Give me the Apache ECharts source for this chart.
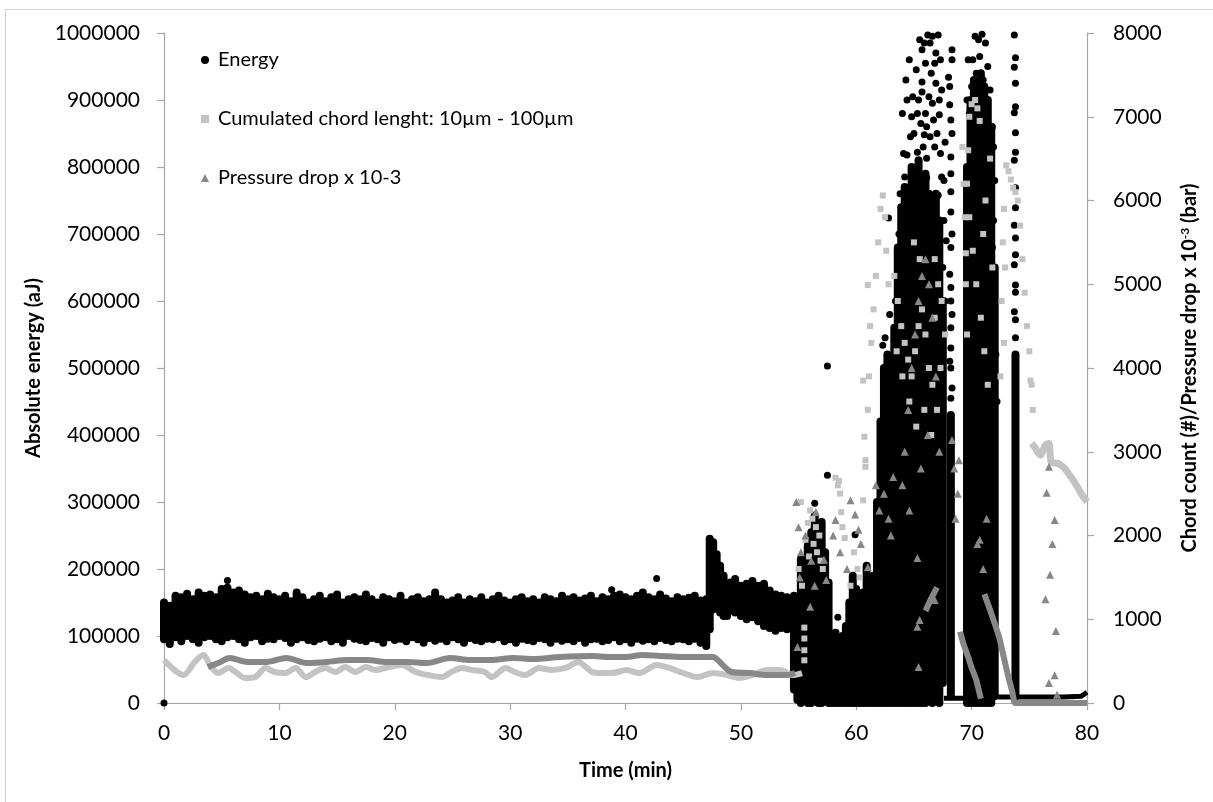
<!DOCTYPE html>
<html><head><meta charset="utf-8">
<script src="https://cdn.jsdelivr.net/npm/echarts@6/dist/echarts.min.js"></script>
<style>html,body{margin:0;padding:0;background:#fff}#c{width:1213px;height:802px}</style>
</head><body><div id="c"></div>
<script>
// ---- axis ticks ----
const leftTicks = [0,100000,200000,300000,400000,500000,600000,700000,800000,900000,1000000];
const rightTicks = [0,1000,2000,3000,4000,5000,6000,7000,8000];
const timeTicks = [0,10,20,30,40,50,60,70,80];

// ---- series names ----
const nameEnergy = 'Energy';
const nameChord = 'Cumulated chord lenght: 10µm - 100µm';
const namePressure = 'Pressure drop x 10-3';

// ---- Energy (aJ): dense band, each entry [time, low, high] of the cloud of points ----
const energyBand = [
[0,95000,150000],[0.5,88000,145000],[1,98000,160000],[1.5,92000,158000],[2,100000,163000],[2.5,95000,155000],
[3,90000,165000],[3.5,98000,160000],[4,100000,162000],[4.5,95000,158000],[5,92000,170000],[5.5,98000,172000],
[6,100000,165000],[6.5,95000,168000],[7,90000,162000],[7.5,98000,158000],[8,100000,160000],[8.5,92000,155000],
[9,96000,163000],[9.5,95000,158000],[10,100000,155000],[10.5,97000,160000],[11,90000,152000],[11.5,95000,165000],
[12,98000,158000],[12.5,94000,150000],[13,92000,155000],[13.5,96000,160000],[14,98000,152000],[14.5,92000,158000],
[15,95000,162000],[15.5,90000,150000],[16,100000,155000],[16.5,96000,158000],[17,94000,155000],[17.5,92000,162000],
[18,97000,155000],[18.5,95000,150000],[19,90000,158000],[19.5,98000,155000],[20,94000,152000],[20.5,96000,160000],
[21,92000,150000],[21.5,98000,155000],[22,95000,158000],[22.5,90000,152000],[23,97000,155000],[23.5,93000,165000],
[24,96000,155000],[24.5,92000,150000],[25,98000,153000],[25.5,95000,158000],[26,90000,150000],[26.5,97000,155000],
[27,94000,152000],[27.5,92000,158000],[28,96000,150000],[28.5,95000,155000],[29,98000,160000],[29.5,92000,153000],
[30,95000,150000],[30.5,90000,155000],[31,96000,158000],[31.5,94000,152000],[32,92000,155000],[32.5,97000,150000],
[33,95000,158000],[33.5,90000,155000],[34,96000,152000],[34.5,93000,160000],[35,95000,155000],[35.5,92000,158000],
[36,97000,153000],[36.5,90000,156000],[37,95000,160000],[37.5,96000,152000],[38,92000,158000],[38.5,94000,155000],
[39,98000,160000],[39.5,92000,162000],[40,95000,158000],[40.5,90000,155000],[41,96000,160000],[41.5,93000,165000],
[42,95000,158000],[42.5,92000,155000],[43,97000,162000],[43.5,94000,156000],[44,92000,152000],[44.5,96000,158000],
[45,95000,155000],[45.5,92000,157000],[46,96000,160000],[46.5,90000,153000],[47,85000,155000],
[47.3,110000,245000],[47.6,140000,240000],[47.9,150000,222000],[48.2,135000,205000],[48.5,130000,190000],
[48.8,130000,178000],[49.1,138000,180000],[49.5,135000,185000],[50,130000,175000],[50.5,125000,178000],
[51,128000,182000],[51.5,122000,175000],[52,115000,178000],[52.5,112000,168000],[53,108000,162000],
[53.5,112000,160000],[54,110000,158000],
[54.6,20000,160000],[54.9,5000,150000],[55.2,0,215000],[55.5,10000,180000],[55.8,0,235000],[56.1,0,255000],
[56.4,5000,280000],[56.7,0,250000],[57,0,270000],[57.3,10000,225000],[57.6,0,180000],[57.9,0,95000],
[58.2,0,105000],[58.5,0,90000],[58.8,0,100000],[59.1,0,115000],[59.4,0,150000],[59.7,0,190000],
[60,0,170000],[60.3,0,120000],[60.6,0,165000],[60.9,0,205000],[61.2,0,150000],[61.5,0,190000],
[61.8,0,300000],[62.1,0,420000],[62.4,0,500000],[62.7,0,520000],[63,0,480000],[63.3,0,560000],
[63.6,0,680000],[63.9,0,740000],[64.2,0,770000],[64.5,0,750000],[64.8,0,800000],[65.1,0,780000],
[65.4,0,810000],[65.7,0,770000],[66,0,790000],[66.3,10000,760000],[66.6,0,740000],[66.9,20000,760000],
[67.2,0,720000],[67.5,30000,600000],[68.2,10000,430000],
[69.6,0,800000],[69.9,0,900000],[70.2,0,930000],[70.5,0,910000],[70.8,0,940000],[71.1,0,920000],
[71.4,0,900000],[71.7,0,860000],[72,10000,650000],[73.8,10000,520000]
];
// ---- Energy: isolated points [time, energy] ----
const energyDots = [
[0,0],[5.5,183000],[38.8,169000],[42.7,186000],
[56.4,298000],[57.5,340000],[57.5,503000],[58.4,128000],[59.9,251000],
[62.3,534000],[62.5,545000],[62.8,724000],[63.4,600000],[62.9,580000],
[65.5,990000],[66.2,997000],[66.6,995000],[67.1,997000],[65.7,975000],[66.4,985000],[66.9,970000],[67.3,960000],
[68.3,975000],[68.3,960000],[68.0,934000],[68.1,920000],[65.7,927000],[65.7,912000],[66.5,940000],[66.9,925000],
[67.2,900000],[66.6,895000],[68.1,893000],[64.8,875000],[65.3,880000],[67.2,878000],[66.1,860000],[65.9,848000],
[64.4,818000],[65.3,822000],[66.1,813000],[67.7,837000],[68.2,815000],[66.8,830000],[64.2,785000],[65.1,792000],
[66.1,784000],[67.4,785000],[68.2,763000],[64.6,763000],[63.9,740000],[65.4,754000],[66.5,743000],[67.1,758000],
[68.2,733000],[67.6,720000],[63.7,700000],[64.0,660000],[67.8,690000],[68.2,680000],[68.1,640000],[67.5,650000],
[68.2,600000],[68.2,560000],[68.1,510000],[67.7,600000],[66.0,760000],[64.9,740000],
[64.0,880000],[64.3,930000],[64.6,960000],[64.9,905000],[65.2,945000],[65.0,850000],[65.6,865000],[66.3,905000],
[66.0,955000],[66.7,870000],[67.0,850000],[67.4,915000],[64.1,820000],[64.7,845000],[65.8,830000],[66.4,845000],
[67.3,820000],[65.4,900000],[66.0,880000],[67.6,780000],[63.8,760000],[64.4,900000],[65.9,985000],[66.8,955000],
[70.3,995000],[70.6,990000],[70.9,998000],[71.2,985000],[70.1,960000],[70.7,965000],[71.4,950000],[70.4,940000],
[71.0,930000],[70.0,920000],[71.6,915000],[70.5,905000],[70.8,890000],[71.3,880000],[70.2,870000],[71.8,860000],
[70.6,850000],[71.1,845000],[69.9,830000],[70.9,820000],[71.5,810000],[70.3,800000],[71.0,790000],[70.6,775000],
[71.7,770000],[70.0,760000],[71.3,750000],[70.8,740000],[69.8,730000],[70.4,720000],[71.5,710000],[71.0,700000],
[70.2,690000],[71.8,680000],[70.7,670000],[69.9,660000],[71.2,650000],[70.5,640000],[71.6,630000],[72.0,600000],
[69.7,690000],[70.1,740000],[70.9,720000],[71.4,690000],[72.1,520000],[72.2,450000],[69.7,780000],[69.8,880000],
[71.9,720000],[72.0,640000],[72.0,780000],[71.9,830000],[69.6,900000],[69.7,960000],
[73.7,997000],[73.8,963000],[73.7,949000],[73.8,925000],[73.8,890000],[73.7,881000],[73.8,851000],[73.8,822000],
[73.7,810000],[73.8,769000],[73.8,739000],[73.7,713000],[73.8,694000],[73.8,669000],[73.7,654000],[73.8,624000],
[73.8,613000],[73.7,584000],[73.8,572000],[73.8,545000],
[68.2,500000],[68.3,470000],[68.2,455000],[68.2,530000],[68.3,580000],[68.2,620000],[68.3,700000],[68.2,790000],
[68.3,850000],[68.2,870000]
];
// ---- Energy: near-zero floor after the events ----
const energyFloor1 = [[67.6,7000],[68.5,7000],[69.5,7000]];
const energyFloor2 = [[72.3,9000],[74,9000],[76,9000],[78,9000],[79.5,10000],[80,16000]];

// ---- Cumulated chord length (#), continuous trace ----
const chordTrace = [
[0,513],[0.9,394],[1.7,334],[2.6,478],[3.4,573],[4.1,430],[4.7,358],[5.6,418],[6.2,370],[7,300],[7.9,310],
[8.8,418],[9.6,370],[10.5,358],[11.4,418],[12.3,310],[13.1,370],[14,418],[14.9,370],[15.7,430],[16.6,370],
[17.5,430],[18.3,394],[19.5,430],[20.6,454],[21.8,370],[22.9,334],[24.1,310],[24.9,370],[25.8,418],[26.7,394],
[27.8,370],[28.4,310],[29.6,418],[30.4,370],[31.3,334],[32.5,418],[33.6,394],[34.8,418],[35.9,490],[37.1,370],
[37.9,358],[38.8,358],[40.1,394],[41.2,358],[42.7,454],[43.8,418],[45,358],[46.2,310],[47.6,358],[48.8,334],
[49.9,300],[51,334],[52.3,394],[53.4,394],[54.5,334],[55.3,358]
];
// ---- Cumulated chord length (#), scattered points ----
const chordDots = [
[55.5,900],[55.5,770],[55.5,630],[55.5,510],[55.2,2400],[55.0,1600],[55.3,1400],
[56.0,2300],[56.2,2200],[56.5,2100],[56.8,2000],[56.3,1900],[56.6,1800],[56.9,1700],[57.1,1600],[55.8,2150],
[55.6,1950],[55.9,1750],[58.2,2690],[58.4,2600],[58.6,2500],[58.5,2650],[58.7,2280],[58.8,2100],[59.0,1970],
[60.6,2420],[60.7,3180],[60.8,2820],[59.8,1800],[60.1,1600],[60.3,1500],[59.5,1400],[60.6,3850],[60.8,2900],
[61.0,4990],[61.2,4500],[61.1,3900],[61.0,3500],[61.3,4300],[61.5,4700],[61.7,5100],[61.9,5500],[62.1,5900],
[62.3,6060],[62.5,5800],[62.6,5400],[62.8,5000],
[63.3,5100],[63.6,4800],[63.9,4500],[64.2,4300],[64.5,4100],[64.8,3900],[65.1,4200],[65.4,4500],[65.7,4700],
[66.0,4400],[66.3,4000],[66.6,3800],[63.5,4200],[64.0,3900],[64.6,3600],[65.2,3300],[65.9,3500],[66.5,3200],
[67.0,3500],[67.3,4000],[66.8,4600],[67.1,5000],[65.0,5500],[65.5,5300],[66.8,5300],[67.4,4800],[67.7,4400],
[69.2,6640],[69.3,6200],[69.4,5800],[69.5,5370],[69.8,7000],[70.0,7150],[70.3,7200],[70.5,7100],[70.7,6950],
[69.7,6600],[69.6,6200],[69.8,5800],[70.1,5400],[70.4,5000],[70.8,4600],[71.1,4200],[71.4,3800],[69.5,5000],
[69.6,4400],[71.6,6500],[71.2,6000],[71.0,5600],[71.8,5200],
[73.0,6420],[73.2,6350],[73.4,6250],[73.6,6150],[73.8,6100],[74.0,6000],[72.8,5900],[72.7,5500],[72.9,5200],
[74.2,5700],[74.4,5300],[74.6,4900],[74.8,4500],[75.0,4200],[75.2,3800],[75.3,3500],[72.6,4800],[72.8,4300],
[72.5,3900],[75.1,3850]
];
const chordTail = [
[75.2,3100],[75.5,3050],[75.8,2980],[76.0,2960],[76.2,3020],[76.4,3080],[76.7,3100],
[76.9,2880],[77.5,2860],[78.0,2810],[78.5,2720],[79.0,2620],[79.5,2500],[80.0,2400]
];

// ---- Pressure drop x 10-3 (bar), continuous trace ----
const pressureTrace = [
[3.8,430],[4.7,478],[5.7,537],[7.2,490],[8.9,490],[10.6,537],[12.4,478],[14.1,490],[15.9,513],[17.6,513],
[19.3,490],[21.1,490],[22.8,478],[24.8,537],[26.5,513],[28.3,513],[30.3,537],[32,525],[34.3,549],[37.2,561],
[38.5,549],[40,549],[41.5,573],[43,561],[45,549],[47.6,549],[48,513],[48.6,430],[49.2,370],[50.8,358],
[52.2,334],[54,334],[54.7,358]
];
const pressureDrop1 = [[66.0,1100],[66.5,1250],[67.0,1380]];
const pressureDrop2 = [[69.0,850],[69.3,700],[69.7,550],[70.0,420],[70.4,280],[70.8,50]];
const pressureDrop3 = [[71.1,1300],[71.5,1150],[72.0,950],[72.4,780],[72.7,600],[73.0,420],[73.2,300],[73.5,150],[73.7,0],[80,0]];
// ---- Pressure drop, scattered points ----
const pressureDots = [
[54.8,2400],[55.0,2100],[55.1,1500],[55.2,1800],[54.9,670],[55.6,2000],[56.1,1700],[56.4,1400],[56.0,1150],
[56.5,2280],[57.2,1710],[57.4,1470],[58.0,2000],[58.2,2185],[58.6,1800],[59.2,1600],[59.5,2420],[59.9,2250],
[60.2,2070],[60.4,1900],[61.0,1620],[61.7,2600],[62.0,2300],[62.4,2500],[62.8,2200],[63.2,2700],[63.0,2000],
[64.2,3000],[64.5,3500],[64.8,4000],[65.1,4400],[65.4,4800],[65.7,5100],[66.0,5300],[66.3,5000],[66.6,4600],
[64.0,2600],[64.6,2300],[65.6,2800],[66.2,3200],[66.9,3900],[67.2,3000],[65.3,1730],[65.3,910],[65.4,430],
[65.5,990],[66.8,1230],
[68.3,3140],[68.5,2800],[68.8,2500],[68.6,2200],[68.9,2900],
[70.5,1900],[71.0,1600],[71.3,2200],[70.7,1950],
[76.7,2820],[76.5,2510],[77.2,2185],[77.0,1900],[76.8,1530],[76.4,1240],[77.3,860],[77.2,330],[76.7,240],[77.4,100]
];

const BLACK = '#000000', LIGHT = '#c3c3c3', DARK = '#878787';
const FONT = 'Lato, "Liberation Sans", sans-serif';

const chart = echarts.init(document.getElementById('c'), null, {renderer: 'canvas'});

function bandItem(params, api) {
  const a = api.coord([api.value(0), api.value(1)]);
  const b = api.coord([api.value(0), api.value(2)]);
  return {type: 'line', shape: {x1: a[0], y1: a[1], x2: b[0], y2: b[1]},
          style: {stroke: BLACK, lineWidth: 8, lineCap: 'round'}};
}

const axisLineStyle = {color: '#a6a6a6', width: 1.2};

chart.setOption({
  animation: false,
  backgroundColor: '#fff',
  graphic: [{type: 'rect', shape: {x: 5.5, y: 9.5, width: 1300, height: 900},
             style: {fill: 'none', stroke: '#d0d0d0', lineWidth: 1}, silent: true}],
  grid: {left: 164, right: 126, top: 33, bottom: 99, containLabel: false},
  legend: {
    orient: 'vertical', left: 196, top: 45, itemGap: 39, itemWidth: 8, itemHeight: 8,
    textStyle: {fontFamily: FONT, fontSize: 20, color: '#000', padding: [0, 0, 0, 4]},
    data: [{name: nameEnergy, icon: 'circle'}, {name: nameChord, icon: 'rect'}, {name: namePressure, icon: 'triangle'}]
  },
  xAxis: {
    type: 'value', min: timeTicks[0], max: timeTicks[timeTicks.length - 1], interval: 10,
    name: 'Time (min)', nameLocation: 'middle', nameGap: 58,
    nameTextStyle: {fontFamily: FONT, fontSize: 20, fontWeight: 'bold', color: '#000'},
    axisLine: {show: true, lineStyle: axisLineStyle, onZero: false},
    axisTick: {show: true, inside: false, length: 7, lineStyle: axisLineStyle},
    axisLabel: {fontFamily: FONT, fontSize: 21, color: '#000', margin: 20, formatter: v => String(v)},
    splitLine: {show: false}
  },
  yAxis: [{
    type: 'value', min: leftTicks[0], max: leftTicks[leftTicks.length - 1], interval: 100000, position: 'left',
    name: 'Absolute energy (aJ)', nameLocation: 'middle', nameGap: 120, nameRotate: 90,
    nameTextStyle: {fontFamily: FONT, fontSize: 20, fontWeight: 'bold', color: '#000'},
    axisLine: {show: true, lineStyle: axisLineStyle},
    axisTick: {show: true, inside: false, length: 7, lineStyle: axisLineStyle},
    axisLabel: {fontFamily: FONT, fontSize: 21, color: '#000', margin: 24, formatter: v => String(v)},
    splitLine: {show: false}
  }, {
    type: 'value', min: rightTicks[0], max: rightTicks[rightTicks.length - 1], interval: 1000, position: 'right',
    name: 'Chord count (#)/Pressure drop x 10{sup|-3} (bar)', nameLocation: 'middle', nameGap: 92, nameRotate: 90,
    nameTextStyle: {fontFamily: FONT, fontSize: 20, fontWeight: 'bold', color: '#000',
      rich: {sup: {fontFamily: FONT, fontSize: 12, fontWeight: 'bold', color: '#000', padding: [0, 0, 10, 0]}}},
    axisLine: {show: true, lineStyle: axisLineStyle},
    axisTick: {show: true, inside: false, length: 7, lineStyle: axisLineStyle},
    axisLabel: {fontFamily: FONT, fontSize: 21, color: '#000', margin: 26, formatter: v => String(v)},
    splitLine: {show: false}
  }],
  series: [
    {name: nameEnergy, type: 'custom', coordinateSystem: 'cartesian2d', xAxisIndex: 0, yAxisIndex: 0,
     itemStyle: {color: BLACK}, encode: {x: 0, y: [1, 2]}, renderItem: bandItem, data: energyBand, z: 1},
    {name: nameEnergy, type: 'scatter', yAxisIndex: 0, symbol: 'circle', symbolSize: 7,
     itemStyle: {color: BLACK, opacity: 1}, data: energyDots, z: 2},
    {name: nameEnergy, type: 'line', yAxisIndex: 0, showSymbol: false, lineStyle: {color: BLACK, width: 5},
     itemStyle: {color: BLACK}, data: energyFloor1, z: 2},
    {name: nameEnergy, type: 'line', yAxisIndex: 0, showSymbol: false, lineStyle: {color: BLACK, width: 5},
     itemStyle: {color: BLACK}, data: energyFloor2, z: 2},

    {name: nameChord, type: 'scatter', yAxisIndex: 1, symbol: 'rect', symbolSize: 6,
     itemStyle: {color: LIGHT, opacity: 1}, data: chordDots, z: 3},
    {name: nameChord, type: 'line', yAxisIndex: 1, showSymbol: false, smooth: 0.3,
     lineStyle: {color: LIGHT, width: 6}, itemStyle: {color: LIGHT}, data: chordTrace, z: 3},
    {name: nameChord, type: 'line', yAxisIndex: 1, showSymbol: false, smooth: 0.3,
     lineStyle: {color: LIGHT, width: 7}, itemStyle: {color: LIGHT}, data: chordTail, z: 3},

    {name: namePressure, type: 'scatter', yAxisIndex: 1, symbol: 'triangle', symbolSize: 8,
     itemStyle: {color: DARK, opacity: 1}, data: pressureDots, z: 4},
    {name: namePressure, type: 'line', yAxisIndex: 1, showSymbol: false, smooth: 0.3,
     lineStyle: {color: DARK, width: 6}, itemStyle: {color: DARK}, data: pressureTrace, z: 4},
    {name: namePressure, type: 'line', yAxisIndex: 1, showSymbol: false,
     lineStyle: {color: DARK, width: 6}, itemStyle: {color: DARK}, data: pressureDrop1, z: 4},
    {name: namePressure, type: 'line', yAxisIndex: 1, showSymbol: false,
     lineStyle: {color: DARK, width: 6}, itemStyle: {color: DARK}, data: pressureDrop2, z: 4},
    {name: namePressure, type: 'line', yAxisIndex: 1, showSymbol: false,
     lineStyle: {color: DARK, width: 6}, itemStyle: {color: DARK}, data: pressureDrop3, z: 4}
  ]
});
</script></body></html>
